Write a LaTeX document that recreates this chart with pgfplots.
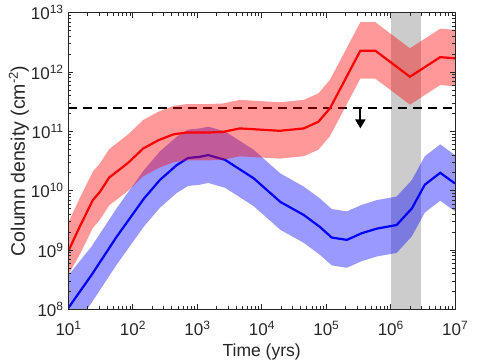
\documentclass[border=0pt]{standalone}
\usepackage{fontspec}
\setmainfont{Liberation Sans}
\usepackage{pgfplots}
\pgfplotsset{compat=1.18}
\usetikzlibrary{arrows.meta}

\definecolor{axgray}{RGB}{38,38,38}
\definecolor{bandgray}{RGB}{204,204,204}

% MATLAB-like raised exponent
\newcommand{\sps}[1]{\raisebox{6pt}{\fontsize{12}{12}\selectfont #1}}
\newcommand{\tlab}[1]{10\sps{#1}}

\begin{document}
\begin{tikzpicture}
\begin{axis}[
  scale only axis,
  width=386.7pt, height=296.6pt,
  xmode=log, ymode=log,
  xmin=10, xmax=1e7, ymin=1e8, ymax=1e13,
  xtick={10,100,1000,10000,100000,1000000,10000000},
  xticklabels={\tlab{1},\tlab{2},\tlab{3},\tlab{4},\tlab{5},\tlab{6},\tlab{7}},
  ytick={1e8,1e9,1e10,1e11,1e12,1e13},
  yticklabels={\tlab{8},\tlab{9},\tlab{10},\tlab{11},\tlab{12},\tlab{13}},
  axis on top,
  axis line style={draw=axgray, line width=0.7pt},
  every tick/.style={axgray, line width=0.6pt},
  major tick length=5pt, minor tick length=3pt,
  tick label style={text=axgray, font=\fontsize{17}{17}\selectfont},
  xticklabel style={anchor=base, inner sep=0pt, yshift=-26.7pt},
  yticklabel style={anchor=east, inner sep=0pt, xshift=-5pt},
  xlabel={Time (yrs)},
  ylabel={Column density (cm\raisebox{7pt}{\fontsize{13}{13}\selectfont -2})},
  xlabel style={at={([yshift=-47.4pt]axis description cs:0.5,0)}, anchor=base,
                text=axgray, font=\fontsize{17.5}{17.5}\selectfont, inner sep=0pt},
  ylabel style={at={([xshift=-43.3pt]axis description cs:0,0.5)}, anchor=base,
                text=axgray, font=\fontsize{19.5}{19.5}\selectfont, inner sep=0pt},
]
% shaded time window
\addplot[draw=none, fill=bandgray]
  coordinates {(1e6,1e8) (3e6,1e8) (3e6,1e13) (1e6,1e13)} -- cycle;

% detection limit
\addplot[black, line width=2.2pt, dash pattern=on 9pt off 6pt]
  coordinates {(10,2.5e11) (1e7,2.5e11)};

% blue band: upper edge, then lower edge backwards
\addplot[draw=none, fill=blue, fill opacity=0.4] coordinates {
  (10,3.72e8) (23,1.15e9) (56,5.01e9) (150,2.24e10) (263,4.57e10)
  (480,8.13e10) (720,1.07e11) (1100,1.12e11) (1480,1.20e11) (2700,1.00e11)
  (7500,4.90e10) (19500,1.95e10) (45000,1.17e10) (80000,7.41e9) (122000,4.90e9)
  (210000,4.47e9) (355000,5.75e9) (610000,6.92e9) (1.24e6,7.94e9) (2.14e6,1.51e10)
  (3.4e6,3.80e10) (5.9e6,6.03e10) (1e7,3.98e10)
  (1e7,4.47e9) (5.9e6,6.76e9) (3.4e6,4.27e9) (2.14e6,1.70e9) (1.24e6,8.91e8)
  (610000,7.76e8) (355000,6.46e8) (210000,5.01e8) (122000,5.50e8) (80000,8.32e8)
  (45000,1.32e9) (19500,2.19e9) (7500,5.50e9) (2700,1.12e10) (1480,1.35e10)
  (1100,1.26e10) (720,1.20e10) (480,9.12e9) (263,5.13e9) (150,2.51e9)
  (56,5.62e8) (23,1.29e8) (10,3.55e7)
} -- cycle;

\addplot[blue, line width=2.2pt] coordinates {
  (10,1.05e8) (23,3.80e8) (56,1.66e9) (150,7.41e9) (263,1.51e10)
  (480,2.69e10) (720,3.55e10) (1100,3.72e10) (1480,3.98e10) (2700,3.31e10)
  (7500,1.62e10) (19500,6.46e9) (45000,3.89e9) (80000,2.45e9) (122000,1.62e9)
  (210000,1.48e9) (355000,1.91e9) (610000,2.29e9) (1.24e6,2.63e9) (2.14e6,5.01e9)
  (3.4e6,1.26e10) (5.9e6,2.00e10) (1e7,1.32e10)
};

% red band: upper edge, then lower edge backwards
\addplot[draw=none, fill=red, fill opacity=0.4] coordinates {
  (10,2.88e9) (15,7.41e9) (24,2.09e10) (31,2.88e10) (43,5.01e10)
  (85,8.91e10) (145,1.55e11) (250,2.14e11) (430,2.69e11) (690,2.88e11)
  (1100,2.88e11) (1480,2.88e11) (2500,2.95e11) (4600,3.39e11) (9300,3.24e11)
  (19000,3.09e11) (45000,3.39e11) (76000,4.37e11) (115000,7.41e11) (340000,6.92e12)
  (580000,6.92e12) (2e6,2.51e12) (5.9e6,5.37e12) (1e7,5.13e12)
  (1e7,5.75e11) (5.9e6,6.03e11) (2e6,2.82e11) (580000,7.76e11) (340000,7.76e11)
  (115000,8.32e10) (76000,4.90e10) (45000,3.80e10) (19000,3.47e10) (9300,3.63e10)
  (4600,3.80e10) (2500,3.31e10) (1480,3.24e10) (1100,3.24e10) (690,3.24e10)
  (430,3.02e10) (250,2.40e10) (145,1.74e10) (85,1.00e10) (43,5.62e9)
  (31,3.24e9) (24,2.34e9) (15,8.32e8) (10,3.80e8)
} -- cycle;

\addplot[red, line width=2.2pt] coordinates {
  (10,9.55e8) (15,2.45e9) (24,6.92e9) (31,9.55e9) (43,1.66e10)
  (85,2.95e10) (145,5.13e10) (250,7.08e10) (430,8.91e10) (690,9.55e10)
  (1100,9.55e10) (1480,9.55e10) (2500,9.77e10) (4600,1.12e11) (9300,1.07e11)
  (19000,1.02e11) (45000,1.12e11) (76000,1.45e11) (115000,2.45e11) (340000,2.29e12)
  (580000,2.29e12) (2e6,8.32e11) (5.9e6,1.78e12) (1e7,1.70e12)
};

% upper-limit arrow
\addplot[black, line width=2pt, -{Triangle[width=10pt,length=9pt]}]
  coordinates {(3.4e5,2.5e11) (3.4e5,1.12e11)};
\end{axis}
\pgfresetboundingbox
\path ([shift={(-68.3pt,-53.7pt)}]current axis.south west) rectangle ++(479pt,363pt);
\end{tikzpicture}
\end{document}
